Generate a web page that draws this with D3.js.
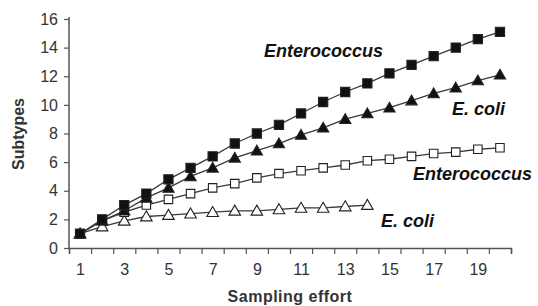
<!DOCTYPE html>
<html><head><meta charset="utf-8">
<script src="https://cdn.jsdelivr.net/npm/d3@7"></script>
<style>body{margin:0;background:#fff}svg{display:block}</style>
</head><body><svg id="c" width="538" height="306"></svg>
<script>
const effort = d3.range(1, 21);
const enteroTotal = [1,2,3,3.8,4.8,5.6,6.4,7.3,8.0,8.6,9.4,10.2,10.9,11.5,12.2,12.8,13.4,14.0,14.6,15.1];
const ecoliTotal = [1,1.9,2.6,3.5,4.2,5.0,5.6,6.3,6.8,7.3,7.9,8.4,9.0,9.4,9.8,10.3,10.8,11.2,11.7,12.1];
const enteroSub = [1,1.9,2.5,3.0,3.4,3.8,4.2,4.5,4.9,5.2,5.4,5.6,5.8,6.1,6.2,6.4,6.6,6.7,6.9,7.0];
const ecoliSub = [1,1.5,1.9,2.2,2.3,2.4,2.5,2.6,2.6,2.7,2.8,2.8,2.9,3.0];
const yTicks = [0,2,4,6,8,10,12,14,16];
const xLabels = [1,3,5,7,9,11,13,15,17,19];

const svg = d3.select('#c');
const FONT = 'Arial, Liberation Sans, sans-serif';
const x = d3.scaleLinear().domain([0.5, 20.5]).range([69, 511]);
const y = d3.scaleLinear().domain([0, 16]).range([248, 19]);
const axisCol = '#555';

svg.append('g').attr('transform','translate(69,0)')
  .call(d3.axisLeft(y).tickValues(yTicks).tickSize(5).tickPadding(6))
  .call(g => g.select('.domain').attr('d','M0,17V248'));
svg.append('g').attr('transform','translate(0,248)')
  .call(d3.axisBottom(x).tickValues(d3.range(0.5, 21, 1)).tickSize(6).tickFormat(''));
svg.append('g').attr('transform','translate(0,248)')
  .call(d3.axisBottom(x).tickValues(xLabels).tickSize(0).tickPadding(16))
  .call(g => g.select('.domain').remove());
svg.selectAll('.domain').attr('stroke', axisCol).attr('stroke-width',1.5);
svg.selectAll('.tick line').attr('stroke', axisCol).attr('stroke-width',1.2);
svg.selectAll('.tick text').attr('font-family',FONT)
  .attr('font-size',16).attr('fill','#333');

svg.append('text').attr('transform','translate(24,134) rotate(-90)')
  .attr('text-anchor','middle').attr('font-family',FONT)
  .attr('font-size',16).attr('font-weight','bold').attr('fill','#333').text('Subtypes');
svg.append('text').attr('x',290).attr('y',302)
  .attr('text-anchor','middle').attr('font-family',FONT).attr('letter-spacing',0.5)
  .attr('font-size',16).attr('font-weight','bold').attr('fill','#333').text('Sampling effort');

const series = [
  {vals: ecoliSub, sym: d3.symbolTriangle, fill: '#fff', size: 58},
  {vals: enteroSub, sym: d3.symbolSquare, fill: '#fff', size: 72},
  {vals: ecoliTotal, sym: d3.symbolTriangle, fill: '#111', size: 55},
  {vals: enteroTotal, sym: d3.symbolSquare, fill: '#111', size: 85}
];
const line = d3.line().x((d,i)=>x(effort[i])).y(d=>y(d));
series.forEach(s => {
  svg.append('path').attr('d', line(s.vals)).attr('fill','none')
    .attr('stroke','#3a3a3a').attr('stroke-width',1.3);
});
series.forEach(s => {
  svg.append('g').selectAll('path').data(s.vals).join('path')
    .attr('transform',(d,i)=>`translate(${x(effort[i])},${y(d) + (s.sym===d3.symbolTriangle?1:0)})`)
    .attr('d', d3.symbol().type(s.sym).size(s.size))
    .attr('fill', s.fill).attr('stroke','#222').attr('stroke-width',1.1);
});

const labels = [
  {t:'Enterococcus', x:264, y:57},
  {t:'E. coli', x:452, y:115},
  {t:'Enterococcus', x:413, y:180},
  {t:'E. coli', x:381, y:227}
];
svg.selectAll('.lbl').data(labels).join('text').attr('class','lbl')
  .attr('x',d=>d.x).attr('y',d=>d.y)
  .attr('font-family',FONT).attr('font-size',18)
  .attr('font-weight','bold').attr('font-style','italic').attr('fill','#111')
  .text(d=>d.t);
</script></body></html>
